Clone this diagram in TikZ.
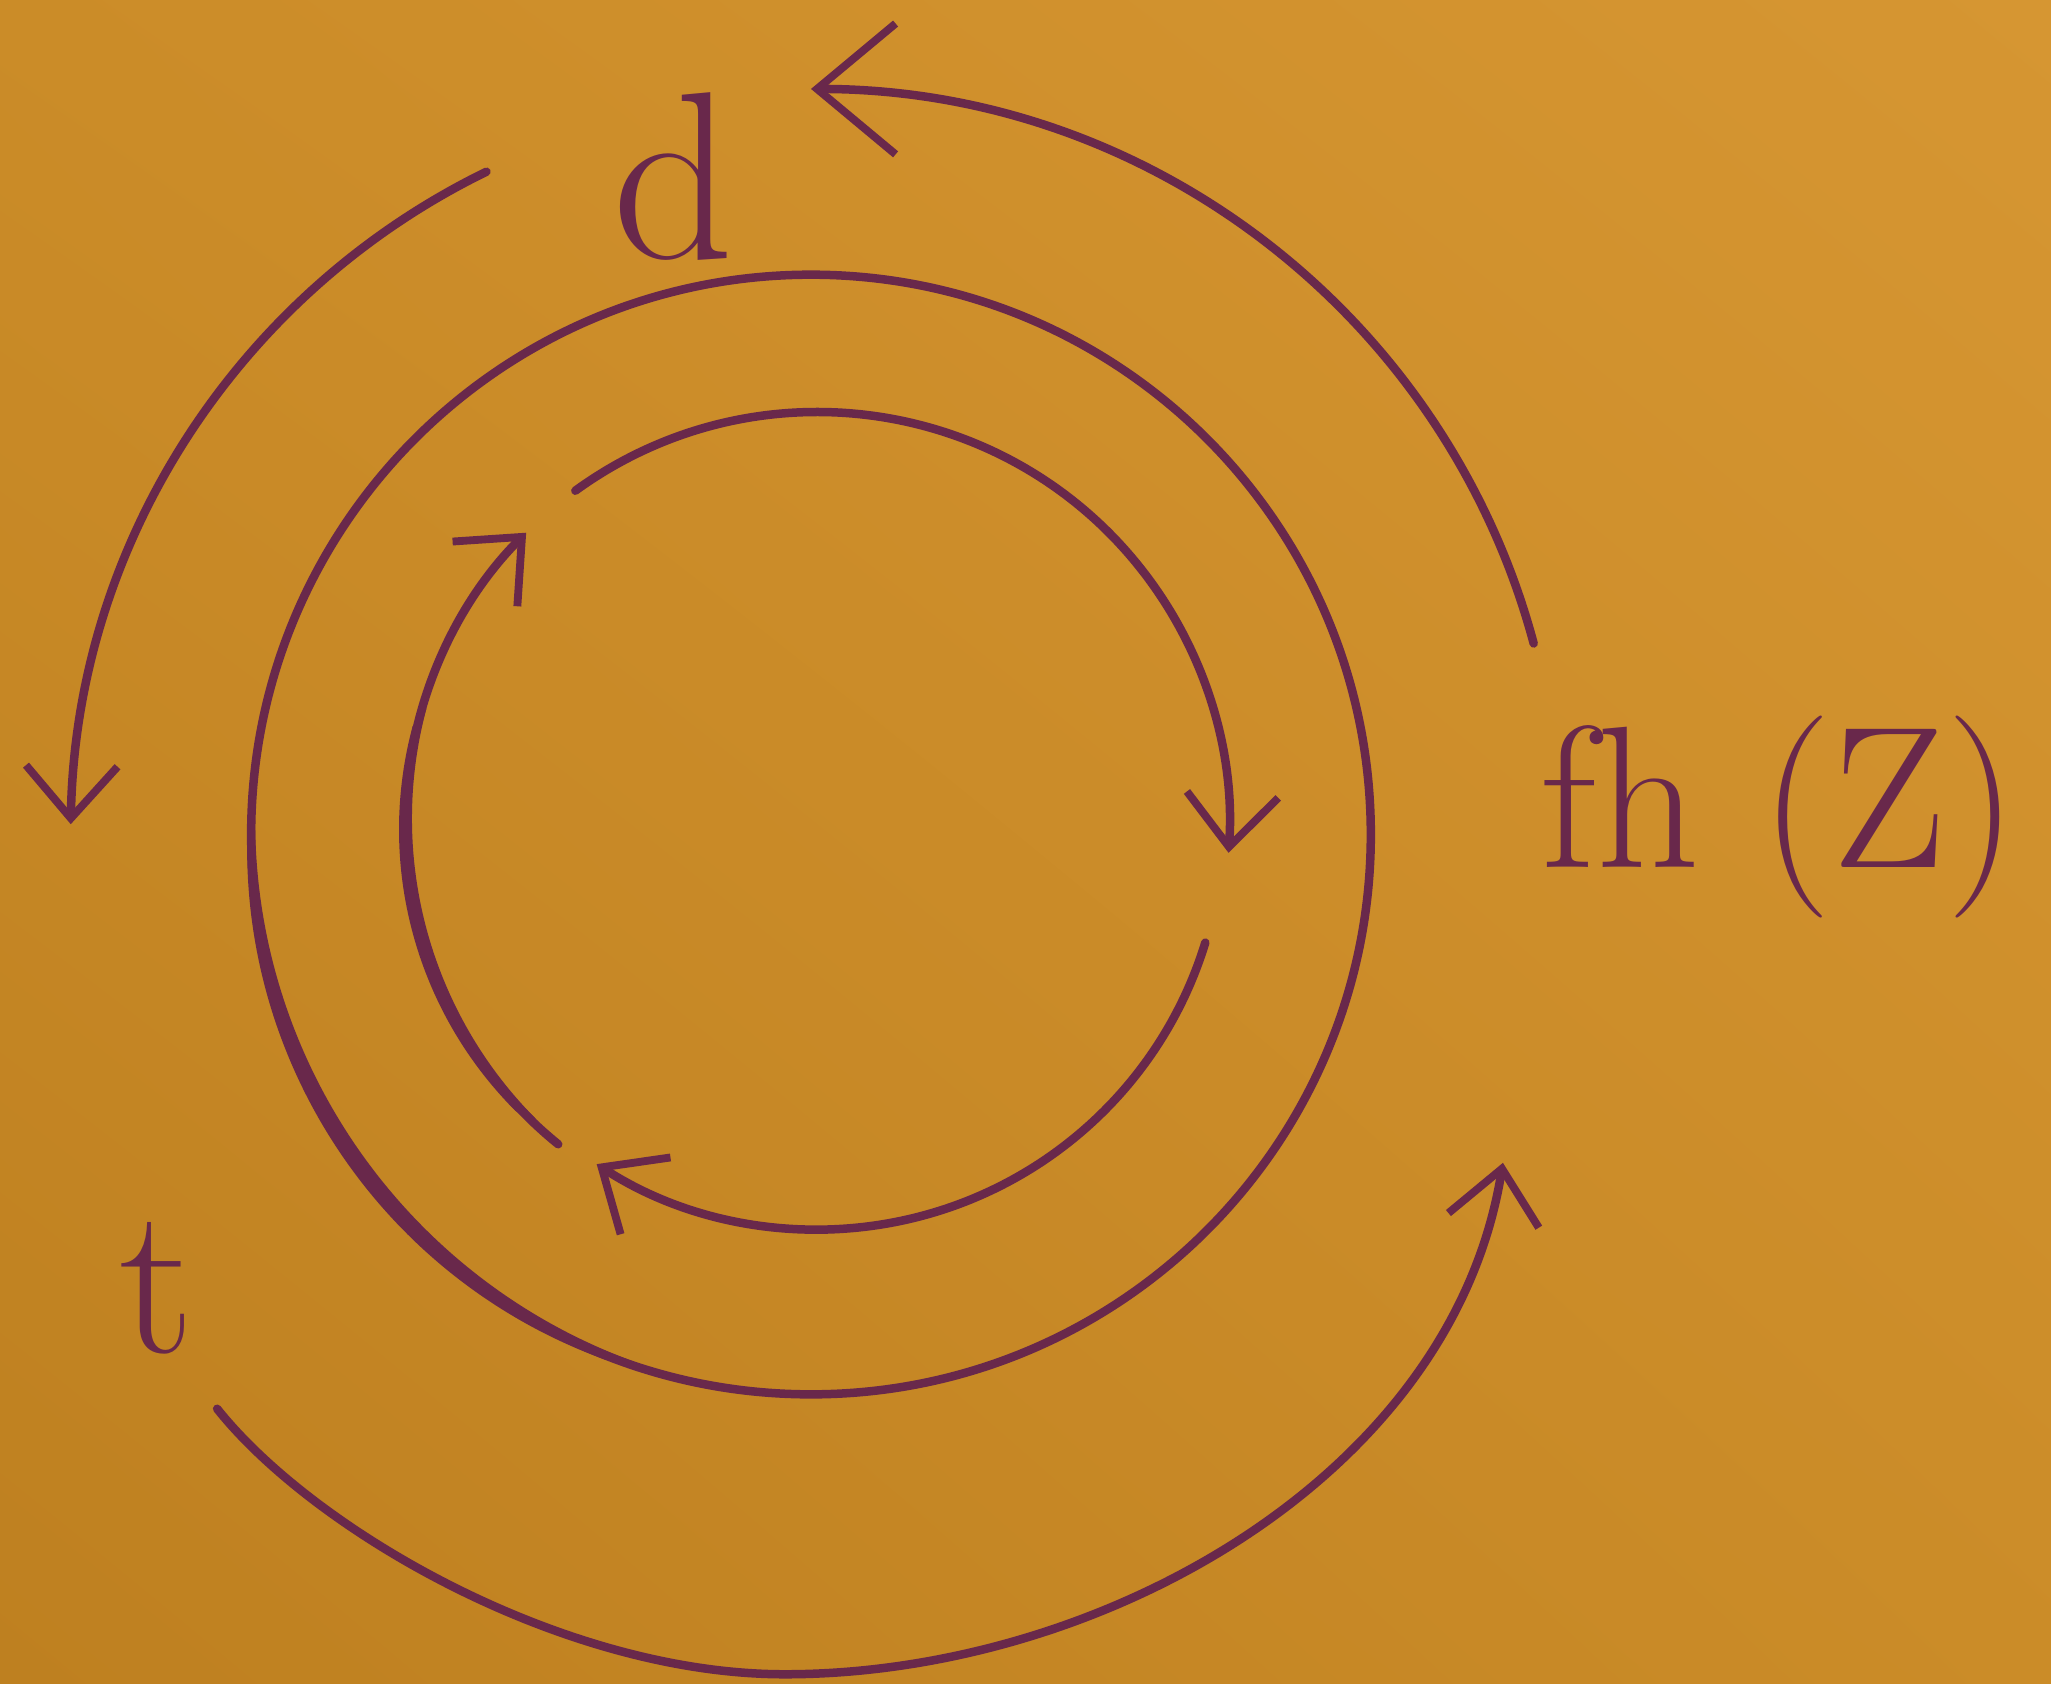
\documentclass[tikz,border=0pt]{standalone}
\usetikzlibrary{arrows.meta,calc,shadings}
\definecolor{paper}{RGB}{203,140,40}
\definecolor{paperlight}{RGB}{214,150,50}
\definecolor{paperdark}{RGB}{190,128,32}
\definecolor{ink}{RGB}{105,40,75}
\begin{document}
\begin{tikzpicture}[x=0.1mm,y=-0.1mm,
  inkline/.style={draw=ink,line width=0.65mm,line cap=round},
  tip/.style={-{Straight Barb[length=4mm,width=7mm,line width=0.6mm]}},
  bigtip/.style={-{Straight Barb[length=6mm,width=10mm,line width=0.6mm]}},
  lbl/.style={text=ink,inner sep=0pt}]
\shade[lower left=paperdark,upper right=paperlight,lower right=paper,upper left=paper] (0,0) rectangle (1568,1287);
\useasboundingbox (0,0) rectangle (1568,1287);
% centres
\coordinate (R) at (620,638);
\coordinate (C) at (625,630);
\coordinate (O) at (620,640);
% outer ring, pressed harder at lower left
\draw[inkline] (R) circle[radius=42.8mm];
\fill[ink] ($(R)+(215:1.9mm)+(180:41.55mm)$) arc[start angle=180,end angle=250,radius=41.55mm]
  -- ($(R)+(35:1.9mm)+(250:44.05mm)$) arc[start angle=250,end angle=180,radius=44.05mm] -- cycle;
% inner clockwise arcs
\draw[inkline,tip] ([shift={(126:31.5mm)}]C) arc[start angle=126,end angle=-4,radius=31.5mm];
\draw[inkline,tip] ([shift={(-17:31mm)}]C) arc[start angle=-17,end angle=-123,radius=31mm];
\draw[inkline,tip] ([shift={(231:31.5mm)}]C) arc[start angle=231,end angle=135,radius=31.5mm];
\fill[ink] ($(C)+(195:1.6mm)+(165:30.45mm)$) arc[start angle=165,end angle=225,radius=30.45mm]
  -- ($(C)+(15:1.6mm)+(225:32.55mm)$) arc[start angle=225,end angle=165,radius=32.55mm] -- cycle;
% outer counter-clockwise arrows
\draw[inkline,bigtip] ([shift={(15:57.2mm)}]O) arc[start angle=15,end angle=90,radius=57.2mm];
\draw[inkline,tip] ([shift={(116:56.6mm)}]O) arc[start angle=116,end angle=179,radius=56.6mm];
\coordinate (b1) at (166,1077);
\coordinate (bm) at (600,1280);
\coordinate (b2) at (1149,889);
\draw[inkline,tip] (b1) .. controls (240,1170) and (430,1280) .. (bm)
  .. controls (840,1280) and (1110,1130) .. (b2);
% labels
\node[lbl,font=\fontsize{52}{56}\selectfont] (d) at (515,135) {d};
\node[lbl,font=\fontsize{46}{50}\selectfont] (t) at (120,985) {t};
\node[lbl,font=\fontsize{44}{48}\selectfont] (f) at (1360,625) {fh (Z)};
\end{tikzpicture}
\end{document}
